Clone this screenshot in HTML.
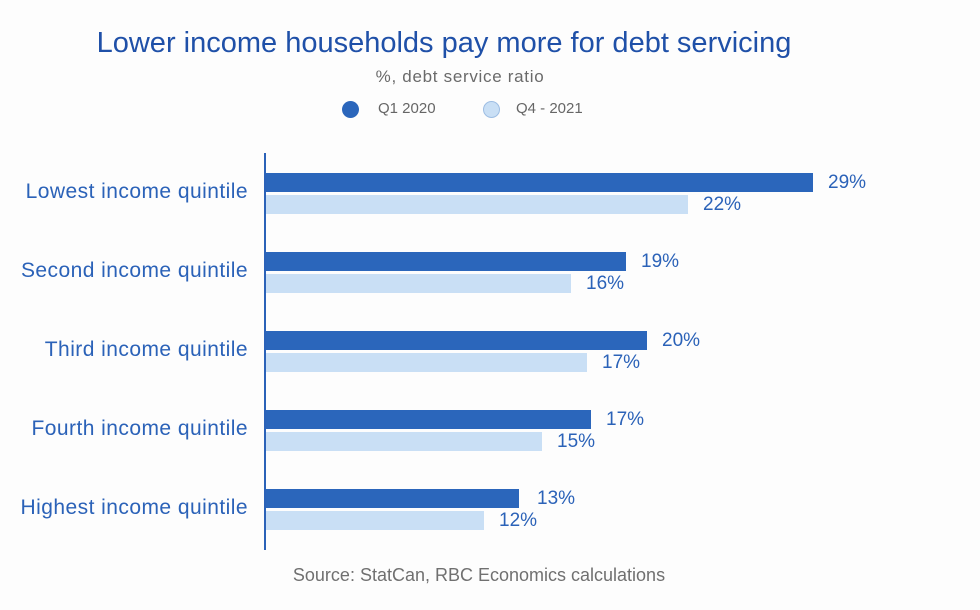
<!DOCTYPE html>
<html><head><meta charset="utf-8"><style>
body{margin:0;width:980px;height:610px;background:#fdfdfd;font-family:"Liberation Sans",sans-serif;position:relative;overflow:hidden}
.a{position:absolute;white-space:nowrap}
.t{left:0;width:888px;text-align:center;top:27px;font-size:29px;color:#1f50a8}
.s{left:0;width:920px;text-align:center;top:67px;font-size:17px;letter-spacing:0.7px;color:#6a6a6a}
.lg{top:100px;font-size:15px;color:#666}
.dot{position:absolute;width:17px;height:17px;border-radius:50%}
.ax{left:264px;top:153px;width:2px;height:397px;background:#2b62b8}
.cat{right:732px;font-size:21px;letter-spacing:0.45px;color:#2b62b8;text-align:right}
.b{left:266px;height:19px}
.d{background:#2b66bb}.l{background:#c9dff5}
.v{font-size:19px;color:#2b62b8}
.src{left:0;width:958px;text-align:center;top:565px;font-size:18px;color:#707070}
</style></head><body>
<div class="a t">Lower income households pay more for debt servicing</div>
<div class="a s">%, debt service ratio</div>
<div class="dot" style="left:342px;top:101px;background:#2b66bb"></div>
<div class="a lg" style="left:378px">Q1 2020</div>
<div class="dot" style="left:483px;top:101px;background:#c9dff5;border:1px solid #9dbde3;box-sizing:border-box"></div>
<div class="a lg" style="left:516px">Q4 - 2021</div>
<div class="a ax"></div>

<div class="a cat" style="top:180px">Lowest income quintile</div>
<div class="a b d" style="top:173px;width:547px"></div>
<div class="a b l" style="top:195px;width:422px"></div>
<div class="a v" style="left:828px;top:172px">29%</div>
<div class="a v" style="left:703px;top:194px">22%</div>

<div class="a cat" style="top:259px">Second income quintile</div>
<div class="a b d" style="top:252px;width:360px"></div>
<div class="a b l" style="top:274px;width:305px"></div>
<div class="a v" style="left:641px;top:251px">19%</div>
<div class="a v" style="left:586px;top:273px">16%</div>

<div class="a cat" style="top:338px">Third income quintile</div>
<div class="a b d" style="top:331px;width:381px"></div>
<div class="a b l" style="top:353px;width:321px"></div>
<div class="a v" style="left:662px;top:330px">20%</div>
<div class="a v" style="left:602px;top:352px">17%</div>

<div class="a cat" style="top:417px">Fourth income quintile</div>
<div class="a b d" style="top:410px;width:325px"></div>
<div class="a b l" style="top:432px;width:276px"></div>
<div class="a v" style="left:606px;top:409px">17%</div>
<div class="a v" style="left:557px;top:431px">15%</div>

<div class="a cat" style="top:496px">Highest income quintile</div>
<div class="a b d" style="top:489px;width:253px"></div>
<div class="a b l" style="top:511px;width:218px"></div>
<div class="a v" style="left:537px;top:488px">13%</div>
<div class="a v" style="left:499px;top:510px">12%</div>

<div class="a src">Source: StatCan, RBC Economics calculations</div>
</body></html>
